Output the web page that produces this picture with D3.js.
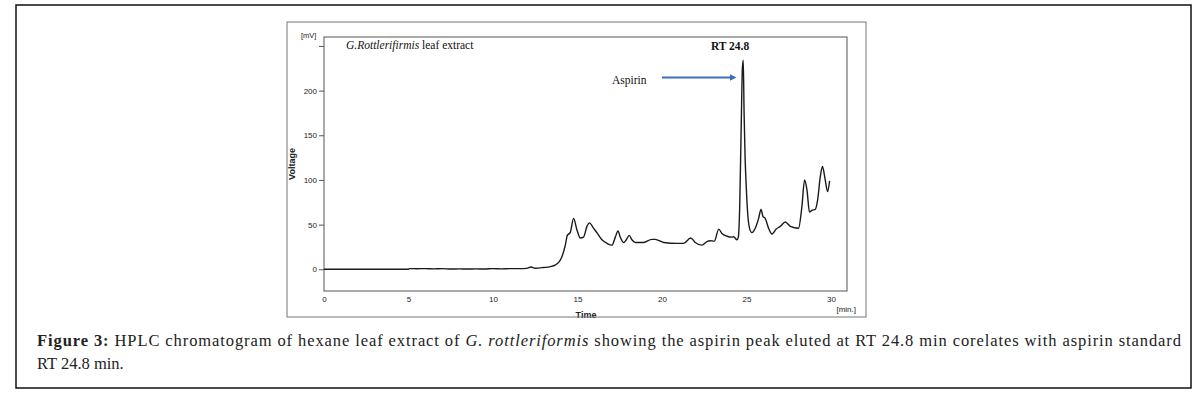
<!DOCTYPE html>
<html lang="en">
<head>
<meta charset="UTF-8"/>
<title>HPLC chromatogram</title>
<script src="https://d3js.org/d3.v7.min.js"></script>
<style>
    body { margin: 0; background: #fff; }
    .axis path, .axis line { stroke: #555; }
    .axis text { font-family: "Liberation Sans", Arial, sans-serif; font-size: 8px; fill: #222; }
    .trace { fill: none; stroke: #1a1a1a; stroke-width: 1.4; }
</style>
</head>
<body>
<div id="chart"></div>
<script>
// retention time (min) and detector signal (mV)
var times = [0, 5.0, 5.05, 5.5, 6.0, 6.5, 7.0, 7.5, 8.0, 8.5, 9.0, 9.5, 10.0, 10.5, 11.0, 11.5,
    12.0, 12.25, 12.5, 13.0, 13.4, 13.7, 13.9, 14.08, 14.28, 14.4, 14.57, 14.77, 14.97, 15.17,
    15.36, 15.56, 15.71, 15.95, 16.19, 16.45, 16.75, 17.04, 17.24, 17.4, 17.53, 17.73, 17.89,
    18.06, 18.22, 18.42, 18.91, 19.4, 19.6, 20.1, 20.9, 21.28, 21.7, 21.97, 22.37, 22.66, 22.85,
    23.1, 23.36, 23.55, 23.85, 24.14, 24.24, 24.44, 24.52, 24.6, 24.68, 24.76, 24.81, 24.86,
    24.92, 24.98, 25.06, 25.18, 25.32, 25.52, 25.72, 25.86, 25.98, 26.11, 26.31, 26.51, 26.76,
    27.0, 27.3, 27.6, 28.08, 28.28, 28.44, 28.58, 28.73, 28.87, 29.07, 29.21, 29.37, 29.5,
    29.66, 29.8, 29.92];
var voltages = [0, 0, 0.8, 0.6, 0.8, 0.5, 0.7, 0.3, 0.5, 0.3, 0.5, 0.3, 0.8, 0.5, 0.8, 0.7,
    1.0, 2.5, 1.2, 2.0, 3, 5, 8, 14, 27, 38, 41, 57, 44, 35,
    36, 48, 52, 46, 40, 33, 29, 27, 36, 43, 36, 30, 33,
    38, 33, 30, 30, 33.5, 33.5, 30, 29, 29, 35, 30, 27, 31, 32,
    31.5, 45, 40, 37, 36, 36.5, 33, 36, 70, 150, 225, 234, 175,
    125, 96, 66, 46, 41, 46, 57, 67, 59, 57, 46, 39.5, 45,
    48, 53, 48, 46, 70, 100, 89, 64, 66, 67, 77.5, 103.6, 115,
    100, 87, 99];

var xTicks = [0, 5, 10, 15, 20, 25, 30];
var yTicks = [0, 50, 100, 150, 200, 250];
var yTickLabels = ["0", "50", "100", "150", "200", ""];

var W = 1203, H = 393;
var plot = {left: 324, top: 37, right: 847, bottom: 291};

var svg = d3.select("#chart").append("svg")
    .attr("width", W).attr("height", H);

// outer figure frame
svg.append("rect")
    .attr("x", 16).attr("y", 5).attr("width", 1175).attr("height", 383)
    .attr("fill", "none").attr("stroke", "#111").attr("stroke-width", 1.5);

var xScale = d3.scaleLinear().domain([0, 30.95]).range([plot.left, plot.right]);
var yScale = d3.scaleLinear().domain([-24.3, 260]).range([plot.bottom, plot.top]);

// plot box
svg.append("rect")
    .attr("x", plot.left).attr("y", plot.top)
    .attr("width", plot.right - plot.left).attr("height", plot.bottom - plot.top)
    .attr("fill", "none").attr("stroke", "#555").attr("stroke-width", 1);

svg.append("g").attr("class", "axis")
    .attr("transform", `translate(0, ${plot.bottom})`)
    .call(d3.axisBottom(xScale).tickValues(xTicks).tickSize(0).tickPadding(5))
    .select(".domain").remove();

svg.append("g").attr("class", "axis")
    .attr("transform", `translate(${plot.left}, 0)`)
    .call(d3.axisLeft(yScale).tickValues(yTicks).tickSize(5).tickPadding(2)
        .tickFormat((d, i) => yTickLabels[i]))
    .select(".domain").remove();

var line = d3.line()
    .x((d, i) => xScale(times[i]))
    .y(d => yScale(d))
    .curve(d3.curveMonotoneX);

svg.append("path")
    .datum(voltages)
    .attr("class", "trace")
    .attr("d", line);

var sans = "'Liberation Sans', Arial, sans-serif";
var serif = "'Liberation Serif', 'Times New Roman', serif";

svg.append("text").attr("x", 301).attr("y", 38)
    .attr("font-family", sans).attr("font-size", 7.5).attr("fill", "#222").text("[mV]");
svg.append("text").attr("x", 856).attr("y", 312).attr("text-anchor", "end")
    .attr("font-family", sans).attr("font-size", 8).attr("fill", "#222").text("[min.]");
svg.append("text")
    .attr("transform", "translate(295, 164) rotate(-90)")
    .attr("text-anchor", "middle")
    .attr("font-family", sans).attr("font-size", 9).attr("font-weight", "bold").attr("fill", "#222")
    .text("Voltage");
svg.append("text").attr("x", 586).attr("y", 318).attr("text-anchor", "middle")
    .attr("font-family", sans).attr("font-size", 9).attr("font-weight", "bold").attr("fill", "#222")
    .text("Time");

// chart image frame
svg.append("rect")
    .attr("x", 287).attr("y", 22).attr("width", 579).attr("height", 295)
    .attr("fill", "none").attr("stroke", "#777").attr("stroke-width", 1);

var title = svg.append("text").attr("x", 346).attr("y", 49)
    .attr("font-family", serif).attr("font-size", 11.5).attr("fill", "#111");
title.append("tspan").attr("font-style", "italic").text("G.Rottlerifirmis");
title.append("tspan").text(" leaf extract");

svg.append("text").attr("x", xScale(24.8) - 13).attr("y", 50).attr("text-anchor", "middle")
    .attr("font-family", serif).attr("font-size", 11.5).attr("font-weight", "bold").attr("fill", "#111")
    .text("RT 24.8");

svg.append("text").attr("x", 612).attr("y", 84)
    .attr("font-family", serif).attr("font-size", 11.5).attr("fill", "#111").text("Aspirin");

svg.append("defs").append("marker")
    .attr("id", "arrow").attr("viewBox", "0 0 10 10")
    .attr("refX", 5).attr("refY", 5)
    .attr("markerWidth", 3.5).attr("markerHeight", 3.5)
    .attr("orient", "auto")
    .append("path").attr("d", "M0,0 L10,5 L0,10 z").attr("fill", "#3b70b8");
svg.append("line")
    .attr("x1", 662).attr("y1", 77.5).attr("x2", 733).attr("y2", 77.5)
    .attr("stroke", "#3b70b8").attr("stroke-width", 2)
    .attr("marker-end", "url(#arrow)");

// caption
var cap1 = svg.append("text").attr("x", 37).attr("y", 346)
    .attr("font-family", serif).attr("font-size", 16.5).attr("fill", "#222");
cap1.append("tspan").attr("font-weight", "bold").text("Figure 3:");
cap1.append("tspan").text(" HPLC chromatogram of hexane leaf extract of ");
cap1.append("tspan").attr("font-style", "italic").text("G. rottleriformis");
cap1.append("tspan").text(" showing the aspirin peak eluted at RT 24.8 min corelates with aspirin standard");
cap1.attr("textLength", 1144).attr("lengthAdjust", "spacing");

svg.append("text").attr("x", 37).attr("y", 369)
    .attr("font-family", serif).attr("font-size", 16.5).attr("fill", "#222")
    .text("RT 24.8 min.");
</script>
</body>
</html>
